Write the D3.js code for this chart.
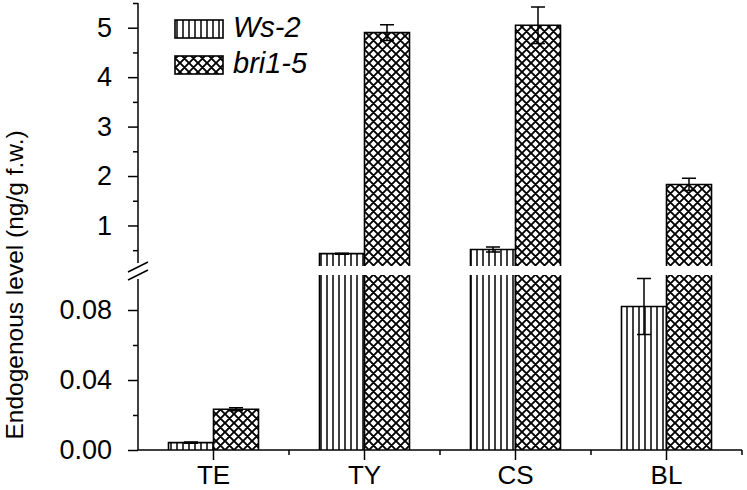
<!DOCTYPE html>
<html><head><meta charset="utf-8">
<script src="https://cdn.jsdelivr.net/npm/d3@7"></script>
<style>
html,body{margin:0;padding:0;background:#fff;}
text{font-family:Arial,"Liberation Sans",sans-serif;fill:#000;}
</style></head>
<body>
<svg id="chart" width="747" height="490"></svg>
<script>
const categories = ["TE", "TY", "CS", "BL"];
const seriesNames = ["Ws-2", "bri1-5"];
const ws2 = [0.0042, 0.43, 0.515, 0.082];
const ws2Err = [0.0004, 0.01, 0.05, 0.016];
const bri = [0.0233, 4.90, 5.05, 1.83];
const briErr = [0.0009, 0.16, 0.37, 0.125];
const upperTicks = [1, 2, 3, 4, 5];
const upperMinor = [0.5, 1.5, 2.5, 3.5, 4.5, 5.5];
const lowerTicks = [0.00, 0.04, 0.08];
const lowerMinor = [0.02, 0.06];

const svg = d3.select("#chart");
const defs = svg.append("defs");
// vertical line hatch
const pv = defs.append("pattern").attr("id", "vert").attr("patternUnits", "userSpaceOnUse")
  .attr("width", 6).attr("height", 10);
pv.append("rect").attr("width", 6).attr("height", 10).attr("fill", "#fff");
pv.append("line").attr("x1", 3).attr("x2", 3).attr("y1", 0).attr("y2", 10)
  .attr("stroke", "#000").attr("stroke-width", 1.5);
// cross hatch
const s = 9;
const pc = defs.append("pattern").attr("id", "cross").attr("patternUnits", "userSpaceOnUse")
  .attr("width", s).attr("height", s);
pc.append("rect").attr("width", s).attr("height", s).attr("fill", "#fff");
pc.append("path").attr("d", `M0,0L${s},${s}M${s},0L0,${s}M-1,1L1,-1M${s-1},${s+1}L${s+1},${s-1}M-1,${s-1}L1,${s+1}M${s-1},-1L${s+1},1`)
  .attr("stroke", "#000").attr("stroke-width", 1.9).attr("fill", "none");

const x0 = 138, x1 = 742;
const x = d3.scaleBand().domain(categories).range([x0, x1]).padding(0);
const yLow = d3.scaleLinear().domain([0, 0.1]).range([450, 275]);
const yUp = d3.scaleLinear().domain([0.18, 5.5]).range([266, 3]);
const lowMax = 0.1, upMin = 0.18;
const barW = 45;

const series = [
  {name: seriesNames[0], vals: ws2, errs: ws2Err, pat: "url(#vert)", off: -barW},
  {name: seriesNames[1], vals: bri, errs: briErr, pat: "url(#cross)", off: 0}
];

const gBars = svg.append("g");
series.forEach(sr => {
  categories.forEach((c, i) => {
    const v = sr.vals[i];
    const cx = x(c) + x.bandwidth() / 2;
    const left = cx + sr.off, right = left + barW;
    const topLow = v > lowMax ? yLow(lowMax) : yLow(v);
    gBars.append("rect").attr("x", left).attr("y", topLow).attr("width", barW)
      .attr("height", yLow(0) - topLow).attr("fill", sr.pat);
    let d = `M${left},${yLow(0)}L${left},${topLow}`;
    if (v <= lowMax) d += `L${right},${topLow}`; else d += `M${right},${topLow}`;
    d += `L${right},${yLow(0)}`;
    gBars.append("path").attr("d", d).attr("fill", "none").attr("stroke", "#000").attr("stroke-width", 1.6);
    if (v > upMin) {
      const t = yUp(v), b = yUp(upMin);
      gBars.append("rect").attr("x", left).attr("y", t).attr("width", barW)
        .attr("height", b - t).attr("fill", sr.pat);
      gBars.append("path").attr("d", `M${left},${b}L${left},${t}L${right},${t}L${right},${b}`)
        .attr("fill", "none").attr("stroke", "#000").attr("stroke-width", 1.6);
    }
    const sc = v > lowMax ? yUp : yLow;
    const ex = left + barW / 2;
    const yt = sc(v + sr.errs[i]), yb = sc(v - sr.errs[i]);
    gBars.append("path").attr("d", `M${ex},${yt}L${ex},${yb}M${ex-7},${yt}L${ex+7},${yt}M${ex-7},${yb}L${ex+7},${yb}`)
      .attr("fill", "none").attr("stroke", "#000").attr("stroke-width", 1.5);
  });
});

// Y axes
const fs = 27;
const gUp = svg.append("g").attr("transform", `translate(${x0},0)`)
  .call(d3.axisLeft(yUp).tickValues(upperTicks).tickSize(10).tickPadding(16).tickFormat(d3.format("d")));
const gUpMin = svg.append("g").attr("transform", `translate(${x0},0)`)
  .call(d3.axisLeft(yUp).tickValues(upperMinor).tickSize(5).tickFormat(""));
const gLow = svg.append("g").attr("transform", `translate(${x0},0)`)
  .call(d3.axisLeft(yLow).tickValues(lowerTicks).tickSize(10).tickPadding(16).tickFormat(d3.format(".2f")));
const gLowMin = svg.append("g").attr("transform", `translate(${x0},0)`)
  .call(d3.axisLeft(yLow).tickValues(lowerMinor).tickSize(5).tickFormat(""));
[gUp, gUpMin, gLow, gLowMin].forEach(g => {
  g.select(".domain").remove();
  g.selectAll("line").attr("stroke", "#000").attr("stroke-width", 1.5);
  g.selectAll("text").attr("font-size", fs).attr("font-family", "Arial, 'Liberation Sans', sans-serif").attr("fill", "#000");
});
svg.append("line").attr("x1", x0).attr("x2", x0).attr("y1", yUp(5.5)).attr("y2", 263)
  .attr("stroke", "#000").attr("stroke-width", 1.5);
svg.append("line").attr("x1", x0).attr("x2", x0).attr("y1", 279).attr("y2", yLow(0))
  .attr("stroke", "#000").attr("stroke-width", 1.5);
svg.append("path").attr("d", "M128,272L148,262M128,280L148,270")
  .attr("stroke", "#000").attr("stroke-width", 1.5).attr("fill", "none");

// X axis
const gx = svg.append("g").attr("transform", `translate(0,${yLow(0)})`);
gx.append("line").attr("x1", x0).attr("x2", x1).attr("stroke", "#000").attr("stroke-width", 1.5);
categories.forEach(c => {
  const cx = x(c) + x.bandwidth() / 2;
  gx.append("line").attr("x1", cx).attr("x2", cx).attr("y1", 0).attr("y2", 10).attr("stroke", "#000").attr("stroke-width", 1.5);
  gx.append("text").attr("x", cx).attr("y", 34).attr("text-anchor", "middle").attr("font-size", 26).text(c);
  const bx = x(c) + x.bandwidth();
  gx.append("line").attr("x1", bx).attr("x2", bx).attr("y1", 0).attr("y2", 5).attr("stroke", "#000").attr("stroke-width", 1.5);
});

// Y title
svg.append("text").attr("transform", "translate(23,285) rotate(-90)")
  .attr("text-anchor", "middle").attr("font-size", 24.5).text("Endogenous level (ng/g f.w.)");

// Legend
series.forEach((sr, i) => {
  const ly = 20 + i * 36;
  svg.append("rect").attr("x", 175).attr("y", ly).attr("width", 48).attr("height", 18)
    .attr("fill", sr.pat).attr("stroke", "#000").attr("stroke-width", 1.6);
  svg.append("text").attr("x", 233).attr("y", ly + 17).attr("font-size", 29)
    .attr("font-style", "italic").text(sr.name);
});
</script>
</body></html>
